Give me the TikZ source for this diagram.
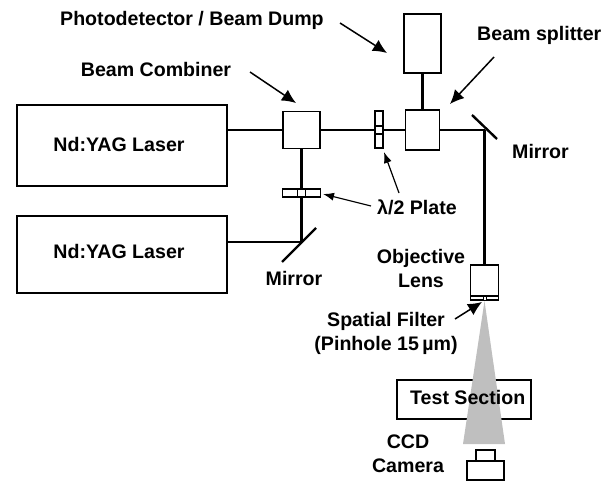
\documentclass[tikz,border=0pt]{standalone}
\usepackage{fontspec}
\setmainfont{Liberation Sans}
\usetikzlibrary{arrows.meta,calc}
\tikzset{
  boxn/.style={draw=black,line width=1.4pt,fill=white,inner sep=0pt,outer sep=0pt},
  beamline/.style={draw=black,line width=2.6pt},
  mirrorline/.style={draw=black,line width=2.4pt},
  lbl/.style={font=\bfseries\fontsize{19.6}{24}\selectfont,inner sep=0pt,align=center,text=black},
  callout/.style={draw=black,line width=1.5pt,-{Latex[length=14pt,width=13pt]}},
  thincall/.style={draw=black,line width=1.2pt,-{Latex[length=11pt,width=8pt]}}
}
\begin{document}
\begin{tikzpicture}[x=1pt,y=-1pt]
\useasboundingbox (0,0) rectangle (616,481);
\coordinate (mirA) at (484.5,130);
\coordinate (mirB) at (301.5,242);
\coordinate (mirAa) at (472,115);
\coordinate (mirAb) at (497,139);
\coordinate (mirBa) at (282,262);
\coordinate (mirBb) at (316,228);
% boxes
\node[boxn,minimum width=210pt,minimum height=81pt] (laserA) at (122,145.5) {};
\node[boxn,minimum width=210pt,minimum height=77pt] (laserB) at (122,254.5) {};
\node[boxn,minimum width=37pt,minimum height=37pt] (combiner) at (301.5,130) {};
\node[boxn,minimum width=34pt,minimum height=40pt] (splitter) at (422.3,130) {};
\node[boxn,minimum width=37pt,minimum height=59pt] (detector) at (422.3,43.5) {};
\draw[beamline] (laserA.east |- combiner.west) -- (combiner.west);
\draw[beamline] (combiner.east) -- (splitter.west);
\draw[beamline] (splitter.east) -- (mirA);
\draw[beamline] (detector.south) -- (splitter.north);
\draw[beamline] (combiner.south) -- (mirB);
\draw[beamline] (laserB.east |- mirB) -- (mirB);
\draw[mirrorline] (mirAa) -- (mirAb);
\draw[mirrorline] (mirBa) -- (mirBb);
% half-wave plates
\node[boxn,minimum width=8pt,minimum height=37pt] (plateA) at (379,129.5) {};
\node[boxn,minimum width=8pt,minimum height=8pt] (plateAc) at (379,130) {};
\node[boxn,minimum width=38pt,minimum height=8pt] (plateB) at (301.5,193) {};
\node[boxn,minimum width=8pt,minimum height=8pt] (plateBc) at (301.5,193) {};
% objective
\node[boxn,minimum width=28pt,minimum height=35pt] (lens) at (484.5,282.5) {};
\draw[beamline] (mirA) -- (lens.north);
\node[boxn,minimum width=28pt,minimum height=4pt] (filter) at (484.5,298) {};
\node[boxn,line width=.8pt,minimum width=3pt,minimum height=4pt] (pinhole) at (484.5,298) {};
% test section, then beam cone over it
\node[boxn,minimum width=134pt,minimum height=39pt] (test) at (464,399.5) {};
\fill[black!25] (484.5,301) -- (505,444) -- (463,444) -- cycle;
\node[lbl,anchor=west] (testlbl) at (410,397) {Test Section};
% camera
\node[boxn,minimum width=19pt,minimum height=11pt] (camtop) at (485.5,455.5) {};
\node[boxn,minimum width=37pt,minimum height=19pt] (cambody) at (485.5,470.5) {};
% labels
\node[lbl,anchor=west] (lbDetector) at (60,20) {Photodetector / Beam Dump};
\node[lbl,anchor=west] (lbSplitter) at (477,35) {Beam splitter};
\node[lbl] (lbCombiner) at (156,69) {Beam Combiner};
\node[lbl] (lbLaserA) at (119,144) {Nd:YAG Laser};
\node[lbl] (lbLaserB) at (119,251) {Nd:YAG Laser};
\node[lbl,anchor=west] (lbMirrorA) at (512,151) {Mirror};
\node[lbl] (lbMirrorB) at (294,278) {Mirror};
\node[lbl,anchor=west] (lbPlate) at (377,207) {λ/2 Plate};
\node[lbl] (lbLens) at (421,268.5) {Objective\\Lens};
\node[lbl] (lbFilter) at (386,333.5) {Spatial Filter\\(Pinhole 15\,µm)};
\node[lbl] (lbCCD) at (408,453.5) {CCD\\Camera};
% callouts
\coordinate (arA) at (340,23); \coordinate (arAe) at (387,53);
\coordinate (arB) at (494,57); \coordinate (arBe) at (450,104);
\coordinate (arC) at (250,72); \coordinate (arCe) at (296,103);
\coordinate (arD) at (399,193); \coordinate (arDe) at (384,152);
\coordinate (arE) at (371,206); \coordinate (arEe) at (323,194);
\coordinate (arF) at (455,319); \coordinate (arFe) at (482,302);
\draw[callout] (arA) -- (arAe);
\draw[callout] (arB) -- (arBe);
\draw[callout] (arC) -- (arCe);
\draw[thincall] (arD) -- (arDe);
\draw[thincall] (arE) -- (arEe);
\draw[callout] (arF) -- (arFe);
\end{tikzpicture}
\end{document}
